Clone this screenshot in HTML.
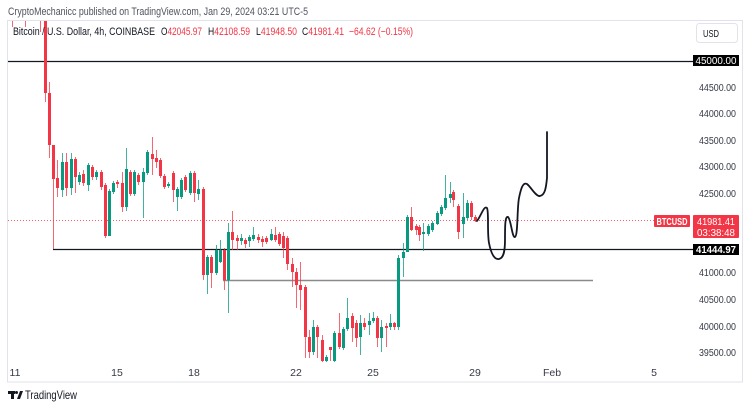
<!DOCTYPE html>
<html><head><meta charset="utf-8"><style>
html,body{margin:0;padding:0;background:#fff;}
svg{display:block;font-family:"Liberation Sans",sans-serif;}
</style></head><body>
<svg width="750" height="409" viewBox="0 0 750 409" xmlns="http://www.w3.org/2000/svg">
<rect x="0" y="0" width="750" height="409" fill="#fff"/>
<text x="8" y="15" font-size="11" fill="#50535e" textLength="300" lengthAdjust="spacingAndGlyphs">CryptoMechanicc published on TradingView.com, Jan 29, 2024 03:21 UTC-5</text>
<rect x="7.5" y="20.5" width="735" height="361.5" fill="none" stroke="#e0e3eb" stroke-width="1"/>
<defs><clipPath id="pc"><rect x="8" y="21" width="685" height="341"/></clipPath></defs>

<g clip-path="url(#pc)">
<!-- horizontal lines -->
<line x1="8" y1="61.5" x2="693" y2="61.5" stroke="#131722" stroke-width="1.2"/>
<line x1="53" y1="249.5" x2="693" y2="249.5" stroke="#131722" stroke-width="1.2"/>
<line x1="223" y1="280.5" x2="593" y2="280.5" stroke="#8a8a8a" stroke-width="1.6"/>
<line x1="8" y1="220.5" x2="655" y2="220.5" stroke="#f23645" stroke-width="1" stroke-dasharray="1,2" opacity="0.8"/>

<!-- wicks red -->
<g stroke="#f23645" stroke-width="1" opacity="0.75">
<line x1="12.5" y1="20" x2="12.5" y2="27"/><line x1="25.5" y1="20" x2="25.5" y2="27"/><line x1="40.5" y1="20" x2="40.5" y2="32"/>
<line x1="45.5" y1="20" x2="45.5" y2="102"/><line x1="49.5" y1="82" x2="49.5" y2="158"/><line x1="53.5" y1="145" x2="53.5" y2="249"/>
<line x1="57.5" y1="160" x2="57.5" y2="197"/><line x1="66.5" y1="153" x2="66.5" y2="196"/><line x1="75.5" y1="157" x2="75.5" y2="193"/>
<line x1="83.5" y1="170" x2="83.5" y2="186"/><line x1="92.5" y1="165" x2="92.5" y2="180"/><line x1="101.5" y1="170" x2="101.5" y2="190"/>
<line x1="105.5" y1="183" x2="105.5" y2="238"/><line x1="117.5" y1="180" x2="117.5" y2="188"/><line x1="122.5" y1="172" x2="122.5" y2="212"/>
<line x1="130.5" y1="170" x2="130.5" y2="196"/><line x1="138.5" y1="173" x2="138.5" y2="185"/><line x1="152.5" y1="137" x2="152.5" y2="175"/>
<line x1="156.5" y1="150" x2="156.5" y2="168"/><line x1="160.5" y1="158" x2="160.5" y2="178"/><line x1="164.5" y1="174" x2="164.5" y2="189"/>
<line x1="173.5" y1="171" x2="173.5" y2="202"/><line x1="185.5" y1="175" x2="185.5" y2="192"/><line x1="194.5" y1="171" x2="194.5" y2="202"/>
<line x1="203.5" y1="187" x2="203.5" y2="280"/><line x1="211.5" y1="255" x2="211.5" y2="288"/><line x1="224.5" y1="248" x2="224.5" y2="290"/>
<line x1="232.5" y1="211" x2="232.5" y2="250"/><line x1="237.5" y1="235" x2="237.5" y2="250"/><line x1="245.5" y1="238" x2="245.5" y2="248"/>
<line x1="258.5" y1="234" x2="258.5" y2="243"/><line x1="262.5" y1="236" x2="262.5" y2="247"/><line x1="266.5" y1="236" x2="266.5" y2="244"/>
<line x1="275.5" y1="227" x2="275.5" y2="242"/><line x1="279.5" y1="232" x2="279.5" y2="246"/><line x1="283.5" y1="232" x2="283.5" y2="258"/>
<line x1="287.5" y1="236" x2="287.5" y2="270"/><line x1="292.5" y1="258" x2="292.5" y2="287"/><line x1="296.5" y1="268" x2="296.5" y2="308"/>
<line x1="300.5" y1="262" x2="300.5" y2="310"/><line x1="305.5" y1="285" x2="305.5" y2="358"/><line x1="309.5" y1="330" x2="309.5" y2="358"/>
<line x1="317.5" y1="325" x2="317.5" y2="358"/><line x1="322.5" y1="335" x2="322.5" y2="362"/><line x1="330.5" y1="347" x2="330.5" y2="361"/>
<line x1="339.5" y1="313" x2="339.5" y2="349"/><line x1="352.5" y1="313" x2="352.5" y2="342"/><line x1="356.5" y1="320" x2="356.5" y2="347"/>
<line x1="364.5" y1="318" x2="364.5" y2="330"/><line x1="377.5" y1="316" x2="377.5" y2="347"/><line x1="386.5" y1="323" x2="386.5" y2="347"/>
<line x1="394.5" y1="322" x2="394.5" y2="330"/><line x1="411.5" y1="207" x2="411.5" y2="231"/><line x1="416.5" y1="224" x2="416.5" y2="235"/>
<line x1="419.5" y1="225" x2="419.5" y2="241"/><line x1="453.5" y1="190" x2="453.5" y2="207"/><line x1="458.5" y1="204" x2="458.5" y2="239"/>
<line x1="471.5" y1="201" x2="471.5" y2="220"/><line x1="475.5" y1="215" x2="475.5" y2="222"/>
</g>
<!-- wicks green -->
<g stroke="#089981" stroke-width="1" opacity="0.75">
<line x1="62.5" y1="153" x2="62.5" y2="197"/><line x1="71.5" y1="153" x2="71.5" y2="195"/><line x1="79.5" y1="172" x2="79.5" y2="185"/>
<line x1="88.5" y1="163" x2="88.5" y2="191"/><line x1="96.5" y1="170" x2="96.5" y2="180"/><line x1="109.5" y1="189" x2="109.5" y2="236"/>
<line x1="113.5" y1="181" x2="113.5" y2="194"/><line x1="126.5" y1="148" x2="126.5" y2="211"/><line x1="134.5" y1="170" x2="134.5" y2="196"/>
<line x1="143.5" y1="168" x2="143.5" y2="218"/><line x1="147.5" y1="150" x2="147.5" y2="175"/><line x1="168.5" y1="182" x2="168.5" y2="188"/>
<line x1="177.5" y1="187" x2="177.5" y2="211"/><line x1="181.5" y1="178" x2="181.5" y2="199"/><line x1="190.5" y1="171" x2="190.5" y2="195"/>
<line x1="198.5" y1="180" x2="198.5" y2="200"/><line x1="207.5" y1="255" x2="207.5" y2="294"/><line x1="216.5" y1="245" x2="216.5" y2="275"/>
<line x1="220.5" y1="240" x2="220.5" y2="263"/><line x1="228.5" y1="223" x2="228.5" y2="313"/><line x1="241.5" y1="234" x2="241.5" y2="245"/>
<line x1="249.5" y1="235" x2="249.5" y2="247"/><line x1="253.5" y1="227" x2="253.5" y2="241"/><line x1="271.5" y1="229" x2="271.5" y2="241"/>
<line x1="313.5" y1="320" x2="313.5" y2="355"/><line x1="326.5" y1="355" x2="326.5" y2="362"/><line x1="334.5" y1="331" x2="334.5" y2="362"/>
<line x1="343.5" y1="327" x2="343.5" y2="350"/><line x1="347.5" y1="298" x2="347.5" y2="331"/><line x1="360.5" y1="315" x2="360.5" y2="355"/>
<line x1="369.5" y1="313" x2="369.5" y2="335"/><line x1="373.5" y1="312" x2="373.5" y2="323"/><line x1="381.5" y1="320" x2="381.5" y2="352"/>
<line x1="390.5" y1="314" x2="390.5" y2="330"/><line x1="398.5" y1="255" x2="398.5" y2="330"/><line x1="403.5" y1="243" x2="403.5" y2="277"/>
<line x1="407.5" y1="215" x2="407.5" y2="252"/><line x1="423.5" y1="223" x2="423.5" y2="251"/><line x1="428.5" y1="224" x2="428.5" y2="236"/>
<line x1="432.5" y1="221" x2="432.5" y2="232"/><line x1="437.5" y1="211" x2="437.5" y2="225"/><line x1="441.5" y1="205" x2="441.5" y2="216"/>
<line x1="445.5" y1="175" x2="445.5" y2="210"/><line x1="450.5" y1="182" x2="450.5" y2="203"/><line x1="463.5" y1="193" x2="463.5" y2="238"/>
<line x1="467.5" y1="200" x2="467.5" y2="220"/>
</g>
<!-- bodies red -->
<g fill="#f23645">
<rect x="44" y="20" width="3" height="73"/><rect x="48" y="93" width="3" height="52"/><rect x="52" y="145" width="3" height="34"/>
<rect x="56" y="178" width="3" height="10"/><rect x="65" y="162" width="3" height="26"/><rect x="74" y="159" width="3" height="18"/>
<rect x="82" y="174" width="3" height="9"/><rect x="91" y="167" width="3" height="10"/><rect x="100" y="172" width="3" height="15"/>
<rect x="104" y="185" width="3" height="51"/><rect x="116" y="182" width="3" height="2"/><rect x="121" y="183" width="3" height="24"/>
<rect x="129" y="172" width="3" height="22"/><rect x="137" y="175" width="3" height="7"/><rect x="151" y="154" width="3" height="5"/>
<rect x="155" y="158" width="3" height="4"/><rect x="159" y="160" width="3" height="16"/><rect x="163" y="176" width="3" height="11"/>
<rect x="172" y="173" width="3" height="17"/><rect x="184" y="177" width="3" height="13"/><rect x="193" y="173" width="3" height="20"/>
<rect x="202" y="189" width="3" height="86"/><rect x="210" y="257" width="3" height="16"/><rect x="223" y="250" width="3" height="30"/>
<rect x="231" y="232" width="3" height="8"/><rect x="236" y="238" width="3" height="3"/><rect x="244" y="240" width="3" height="4"/>
<rect x="257" y="237" width="3" height="3"/><rect x="261" y="239" width="3" height="3"/><rect x="265" y="238" width="3" height="4"/>
<rect x="274" y="235" width="3" height="5"/><rect x="278" y="234" width="3" height="10"/><rect x="282" y="236" width="3" height="12"/>
<rect x="286" y="238" width="3" height="26"/><rect x="291" y="264" width="3" height="8"/><rect x="295" y="272" width="3" height="13"/>
<rect x="299" y="285" width="3" height="5"/><rect x="304" y="287" width="3" height="50"/><rect x="308" y="337" width="3" height="15"/>
<rect x="316" y="327" width="3" height="10"/><rect x="321" y="340" width="3" height="21"/><rect x="329" y="347" width="3" height="3"/>
<rect x="338" y="333" width="3" height="14"/><rect x="351" y="316" width="3" height="12"/><rect x="355" y="323" width="3" height="15"/>
<rect x="363" y="323" width="3" height="4"/><rect x="376" y="318" width="3" height="20"/><rect x="385" y="326" width="3" height="2"/>
<rect x="393" y="323" width="3" height="4"/><rect x="410" y="217" width="3" height="13"/><rect x="415" y="226" width="3" height="4"/>
<rect x="418" y="227" width="3" height="8"/><rect x="452" y="192" width="3" height="8"/><rect x="457" y="206" width="3" height="26"/>
<rect x="470" y="203" width="3" height="14"/><rect x="474" y="217" width="3" height="4"/>
</g>
<!-- bodies green -->
<g fill="#089981">
<rect x="61" y="162" width="3" height="28"/><rect x="70" y="159" width="3" height="29"/><rect x="78" y="175" width="3" height="7"/>
<rect x="87" y="165" width="3" height="20"/><rect x="95" y="172" width="3" height="5"/><rect x="108" y="191" width="3" height="45"/>
<rect x="112" y="183" width="3" height="9"/><rect x="125" y="169" width="3" height="38"/><rect x="133" y="172" width="3" height="22"/>
<rect x="142" y="172" width="3" height="10"/><rect x="146" y="152" width="3" height="21"/><rect x="167" y="184" width="3" height="2"/>
<rect x="176" y="189" width="3" height="8"/><rect x="180" y="180" width="3" height="17"/><rect x="189" y="173" width="3" height="20"/>
<rect x="197" y="189" width="3" height="5"/><rect x="206" y="257" width="3" height="18"/><rect x="215" y="250" width="3" height="23"/>
<rect x="219" y="250" width="3" height="12"/><rect x="227" y="232" width="3" height="48"/><rect x="240" y="238" width="3" height="3"/>
<rect x="248" y="237" width="3" height="4"/><rect x="252" y="235" width="3" height="4"/><rect x="270" y="234" width="3" height="6"/>
<rect x="312" y="327" width="3" height="25"/><rect x="325" y="357" width="3" height="4"/><rect x="333" y="333" width="3" height="28"/>
<rect x="342" y="329" width="3" height="19"/><rect x="346" y="318" width="3" height="11"/><rect x="359" y="323" width="3" height="14"/>
<rect x="368" y="321" width="3" height="4"/><rect x="372" y="318" width="3" height="3"/><rect x="380" y="327" width="3" height="11"/>
<rect x="389" y="323" width="3" height="4"/><rect x="397" y="258" width="3" height="69"/><rect x="402" y="252" width="3" height="6"/>
<rect x="406" y="217" width="3" height="35"/><rect x="422" y="232" width="3" height="2"/><rect x="427" y="226" width="3" height="8"/>
<rect x="431" y="223" width="3" height="7"/><rect x="436" y="213" width="3" height="11"/><rect x="440" y="207" width="3" height="7"/>
<rect x="444" y="198" width="3" height="10"/><rect x="449" y="194" width="3" height="4"/><rect x="462" y="217" width="3" height="7"/>
<rect x="466" y="203" width="3" height="15"/>
</g>

<!-- hand-drawn projection -->
<path d="M477,221 C481,216 484,205 487,208 C489,212 487,232 489,243 C491,253 494,260 499,259 C504,258 505,250 505,240 C505,226 505,216 508,217 C511,219 512,238 515,237 C518,236 517,208 519,198 C521,188 523,182 527,184 C531,187 536,197 540,196 C545,195 546,188 547,178 L547,132" fill="none" stroke="#131722" stroke-width="1.8" stroke-linejoin="round" stroke-linecap="round"/>
</g>

<!-- legend -->
<g font-size="11">
<text x="13" y="35" fill="#131722" textLength="142" lengthAdjust="spacingAndGlyphs">Bitcoin / U.S. Dollar, 4h, COINBASE</text>
<text x="161" y="35" textLength="41" lengthAdjust="spacingAndGlyphs"><tspan fill="#131722">O</tspan><tspan fill="#f23645">42045.97</tspan></text>
<text x="208" y="35" textLength="42" lengthAdjust="spacingAndGlyphs"><tspan fill="#131722">H</tspan><tspan fill="#f23645">42108.59</tspan></text>
<text x="256" y="35" textLength="41" lengthAdjust="spacingAndGlyphs"><tspan fill="#131722">L</tspan><tspan fill="#f23645">41948.50</tspan></text>
<text x="302" y="35" textLength="42" lengthAdjust="spacingAndGlyphs"><tspan fill="#131722">C</tspan><tspan fill="#f23645">41981.41</tspan></text>
<text x="349" y="35" fill="#f23645" textLength="64" lengthAdjust="spacingAndGlyphs">−64.62 (−0.15%)</text>
</g>

<!-- USD box -->
<rect x="696.5" y="23.5" width="41" height="19" rx="3" fill="#fff" stroke="#e0e3eb"/>
<text x="703" y="37" font-size="10" fill="#131722" textLength="16" lengthAdjust="spacingAndGlyphs">USD</text>

<!-- price ticks -->
<g font-size="10" fill="#363a45" text-anchor="end">
<text x="736" y="91" textLength="37" lengthAdjust="spacingAndGlyphs">44500.00</text>
<text x="736" y="117" textLength="37" lengthAdjust="spacingAndGlyphs">44000.00</text>
<text x="736" y="144" textLength="37" lengthAdjust="spacingAndGlyphs">43500.00</text>
<text x="736" y="170" textLength="37" lengthAdjust="spacingAndGlyphs">43000.00</text>
<text x="736" y="197" textLength="37" lengthAdjust="spacingAndGlyphs">42500.00</text>
<text x="736" y="276" textLength="37" lengthAdjust="spacingAndGlyphs">41000.00</text>
<text x="736" y="303" textLength="37" lengthAdjust="spacingAndGlyphs">40500.00</text>
<text x="736" y="330" textLength="37" lengthAdjust="spacingAndGlyphs">40000.00</text>
<text x="736" y="356" textLength="37" lengthAdjust="spacingAndGlyphs">39500.00</text>
</g>

<!-- price labels -->
<rect x="693" y="55" width="46" height="11" fill="#000"/>
<text x="716" y="64" font-size="10" fill="#fff" text-anchor="middle" textLength="41" lengthAdjust="spacingAndGlyphs">45000.00</text>
<rect x="693" y="244" width="46" height="11" fill="#000"/>
<text x="716" y="253" font-size="10" fill="#fff" text-anchor="middle" font-weight="bold" textLength="40" lengthAdjust="spacingAndGlyphs">41444.97</text>
<rect x="654" y="215" width="36" height="12" rx="1" fill="#f23645"/>
<text x="672" y="225" font-size="10" fill="#fff" text-anchor="middle" font-weight="bold" textLength="31" lengthAdjust="spacingAndGlyphs">BTCUSD</text>
<rect x="693" y="215" width="46" height="23" rx="1" fill="#f23645"/>
<text x="716" y="225" font-size="10" fill="#fff" text-anchor="middle" textLength="38" lengthAdjust="spacingAndGlyphs">41981.41</text>
<text x="716" y="236" font-size="10" fill="#fff" text-anchor="middle" textLength="38" lengthAdjust="spacingAndGlyphs">03:38:48</text>

<!-- time axis -->
<g font-size="10.5" fill="#363a45" text-anchor="middle">
<text x="15" y="376">11</text>
<text x="117" y="376">15</text>
<text x="194" y="376">18</text>
<text x="296" y="376">22</text>
<text x="373" y="376">25</text>
<text x="475" y="376">29</text>
<text x="552" y="376">Feb</text>
<text x="654" y="376">5</text>
</g>

<!-- TradingView logo -->
<g fill="#131722">
<rect x="8" y="391" width="7" height="3"/>
<rect x="11" y="391" width="3" height="8"/>
<circle cx="16.5" cy="392.5" r="1.5"/>
<polygon points="17,399 20,391 23,391 20,399"/>
</g>
<text x="25" y="399" font-size="12" fill="#131722" textLength="52" lengthAdjust="spacingAndGlyphs">TradingView</text>
</svg>
</body></html>
